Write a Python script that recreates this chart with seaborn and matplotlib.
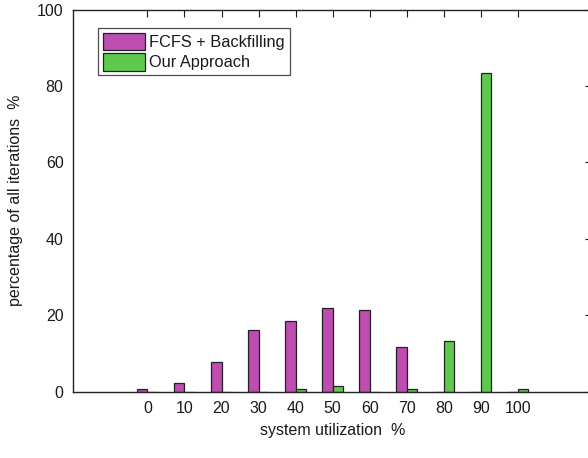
import matplotlib
matplotlib.use("Agg")
import matplotlib.pyplot as plt
import seaborn as sns
import pandas as pd

utilization = [0, 10, 20, 30, 40, 50, 60, 70, 80, 90, 100]
fcfs_backfilling = [0.6, 2.4, 7.7, 16.2, 18.6, 22.0, 21.3, 11.7, 0.0, 0.0, 0.0]
our_approach = [0.0, 0.0, 0.0, 0.0, 0.8, 1.4, 0.0, 0.8, 13.2, 83.4, 0.8]
series_names = ["FCFS + Backfilling", "Our Approach"]
colors = ["#BF4CB0", "#5FC94E"]

df = pd.DataFrame({
    "util": utilization * 2,
    "value": fcfs_backfilling + our_approach,
    "series": [series_names[0]] * len(utilization) + [series_names[1]] * len(utilization),
})

sns.set_style("white")
plt.rcParams["font.family"] = ["Liberation Sans", "DejaVu Sans"]
plt.rcParams["font.size"] = 11.5

fig = plt.figure(figsize=(5.88, 4.58), dpi=100)
ax = fig.add_axes([73.3 / 588, 1 - 391.7 / 458, (592 - 73.3) / 588, (391.7 - 9.5) / 458])

sns.barplot(data=df, x="util", y="value", hue="series", hue_order=series_names,
            palette=colors, native_scale=True, width=0.56, dodge=True,
            edgecolor="#222222", linewidth=0.9, errorbar=None, saturation=1,
            ax=ax)

ax.set_xlim(-20, 120)
ax.set_ylim(0, 100)
ax.set_xticks(utilization)
ax.set_xticklabels([str(u) for u in utilization])
ax.set_yticks([0, 20, 40, 60, 80, 100])
ax.tick_params(direction="in", top=True, right=True, length=5, width=0.8,
               labelsize=11.5, colors="#1a1a1a", pad=7)
for s in ax.spines.values():
    s.set_visible(True)
    s.set_color("#222222")
    s.set_linewidth(1.0)

ax.set_xlabel("system utilization  %", fontsize=11.5, labelpad=5, color="#1a1a1a")
ax.set_ylabel("percentage of all iterations  %", fontsize=11.5, labelpad=10, color="#1a1a1a")

leg = ax.legend(loc="upper left", bbox_to_anchor=((97.7 - 73.3) / 518.7, (391.7 - 27.7) / 382.2),
                borderaxespad=0, frameon=True, fancybox=False, edgecolor="#222222",
                handlelength=2.6, handleheight=1.25, handletextpad=0.25,
                labelspacing=0.2, borderpad=0.3, fontsize=11.8)
leg.get_frame().set_linewidth(0.9)
for t in leg.get_texts():
    t.set_color("#1a1a1a")
leg.set_title(None)

fig.savefig("out.png", dpi=100)
